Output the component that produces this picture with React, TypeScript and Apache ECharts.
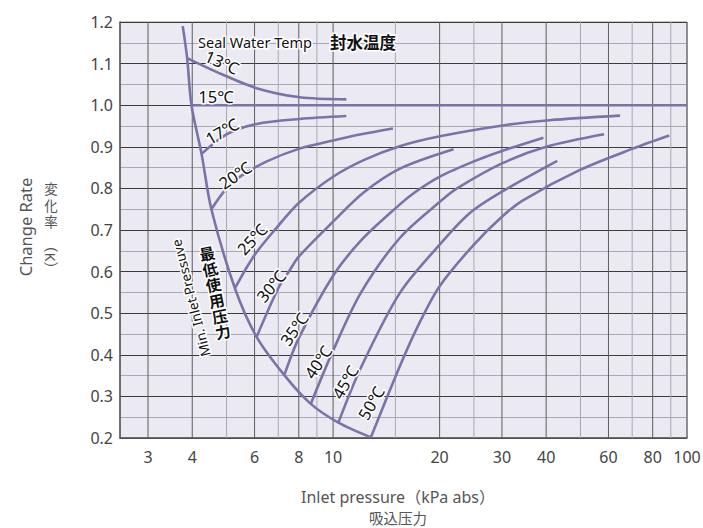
import React, { useEffect, useRef } from "react";
import * as echarts from "echarts";

// ---- data (inlet pressure kPa abs, change rate K) ----
const xMajorTicks = [3, 4, 6, 8, 10, 20, 30, 40, 60, 80, 100];
const xMinorTicks = [5, 7, 9, 15, 25, 50, 70, 90];

const minInletPressure = [
  [3.76, 1.19], [3.87, 1.113], [3.98, 1.0], [4.25, 0.883], [4.53, 0.75],
  [5.28, 0.56], [6.08, 0.443], [7.28, 0.351], [8.65, 0.282], [10.35, 0.237], [12.79, 0.2016],
];
const t13 = [[3.87, 1.113], [4.68, 1.08], [6.08, 1.041], [8.06, 1.019], [10.9, 1.014]];
const t15 = [[3.98, 1.0], [100, 1.0]];
const t17 = [[4.25, 0.883], [5.0, 0.93], [6.08, 0.955], [8.06, 0.967], [10.9, 0.974]];
const t20 = [[4.53, 0.75], [5.0, 0.8], [5.5, 0.83], [6.5, 0.865], [8, 0.895], [10, 0.915], [12, 0.93], [14.76, 0.944]];
const t25 = [[5.28, 0.56], [6, 0.64], [7, 0.71], [8, 0.765], [10, 0.828], [12.2, 0.868], [15.5, 0.902], [20.2, 0.926], [30.5, 0.952], [40.9, 0.964], [64.7, 0.975]];
const t30 = [[6.08, 0.443], [7, 0.56], [7.55, 0.604], [8, 0.636], [10, 0.72], [12.2, 0.79], [15.5, 0.848], [21.9, 0.894]];
const t35 = [[7.28, 0.351], [8, 0.44], [10, 0.59], [12, 0.675], [15, 0.752], [17, 0.79], [20.2, 0.83], [25, 0.865], [30, 0.89], [39.3, 0.922]];
const t40 = [[8.65, 0.282], [10, 0.41], [12, 0.55], [15.48, 0.682], [20.3, 0.772], [22.4, 0.8], [30, 0.86], [40, 0.9], [58.3, 0.93]];
const t45 = [[10.35, 0.237], [12, 0.37], [15.48, 0.55], [20.5, 0.675], [24.45, 0.742], [30, 0.792], [43, 0.866]];
const t50 = [[12.79, 0.2016], [15.48, 0.375], [17.5, 0.475], [20, 0.565], [25, 0.665], [30, 0.732], [34.5, 0.772], [50, 0.845], [70, 0.895], [89.1, 0.927]];

const curves = [minInletPressure, t13, t15, t17, t20, t25, t30, t35, t40, t45, t50];

const tempLabels = ["13℃", "15℃", "17℃", "20℃", "25℃", "30℃", "35℃", "40℃", "45℃", "50℃"];
const yTitleChars = ["変", "化", "率"];

const PURPLE = "#7B73A8";
const FONT = "'Noto Sans', 'Noto Sans CJK JP', sans-serif";

export default function App() {
  const ref = useRef<HTMLDivElement>(null);
  useEffect(() => {
    if (!ref.current) return;
    const chart = echarts.init(ref.current, null, { renderer: "svg" });

    const gridData = [
      ...xMinorTicks.map((v) => [v, 0.2, 0]),
      ...xMajorTicks.map((v) => [v, 0.2, 1]),
    ];

    const labelPos = [
      [222, 62, -0.42], [216, 96, 0], [222, 131, 0.52], [235, 175, 0.6],
      [252, 239, 0.82], [271, 286, 0.88], [294, 329, 0.96], [318, 362, 0.98],
      [345, 382, 1.05], [371, 403, 1.05],
    ];

    const halo = { stroke: "#ffffff", lineWidth: 3, strokeFirst: true } as any;

    const graphics: any[] = tempLabels.map((t, i) => ({
      type: "text",
      x: labelPos[i][0],
      y: labelPos[i][1],
      rotation: labelPos[i][2],
      z: 100,
      style: {
        text: t, fill: "#111", fontSize: 16.5, fontFamily: FONT,
        align: "center", verticalAlign: "middle", ...halo,
      },
    }));
    yTitleChars.forEach((c, i) => {
      graphics.push({
        type: "text", x: 51, y: 189 + i * 16.5,
        style: { text: c, fill: "#555", fontSize: 13.5, fontFamily: FONT, align: "center", verticalAlign: "middle" },
      });
    });
    graphics.push(
      {
        type: "text", x: 198, y: 42, z: 100,
        style: { text: "Seal Water Temp", fill: "#111", fontSize: 14.5, fontFamily: FONT, align: "left", verticalAlign: "middle", ...halo },
      },
      {
        type: "text", x: 330, y: 42, z: 100,
        style: { text: "封水温度", fill: "#111", fontSize: 16.5, fontWeight: "bold", fontFamily: FONT, align: "left", verticalAlign: "middle", ...halo },
      },
      {
        type: "text", x: 191, y: 298, rotation: 1.82, z: 100,
        style: { text: "Min. Inlet Pressuve", fill: "#111", fontSize: 13.5, fontFamily: FONT, align: "center", verticalAlign: "middle", ...halo },
      },
      {
        type: "text", x: 215, y: 293, rotation: 0.2, z: 100,
        style: { text: "最\n低\n使\n用\n压\n力", fill: "#111", fontSize: 15.5, lineHeight: 16, fontWeight: "bold", fontFamily: FONT, align: "center", verticalAlign: "middle", ...halo },
      },
      {
        type: "text", x: 25, y: 227, rotation: Math.PI / 2,
        style: { text: "Change Rate", fill: "#555", fontSize: 16.5, fontFamily: FONT, align: "center", verticalAlign: "middle" },
      },
      {
        type: "text", x: 51, y: 257, rotation: -Math.PI / 2,
        style: { text: "（K）", fill: "#555", fontSize: 14.5, fontFamily: FONT, align: "center", verticalAlign: "middle" },
      },
      {
        type: "text", x: 398, y: 497,
        style: { text: "Inlet pressure（kPa abs）", fill: "#555", fontSize: 16, fontFamily: FONT, align: "center", verticalAlign: "middle" },
      },
      {
        type: "text", x: 398, y: 518,
        style: { text: "吸込压力", fill: "#555", fontSize: 14.5, fontFamily: FONT, align: "center", verticalAlign: "middle" },
      }
    );

    chart.setOption({
      animation: false,
      grid: {
        left: 120, top: 22, right: 16, bottom: 90,
        show: true, backgroundColor: "#EBEAF2", borderColor: "#8a8a8a", borderWidth: 1,
      },
      xAxis: {
        type: "log", logBase: 10, min: 2.5, max: 100,
        axisLine: { show: true, lineStyle: { color: "#555", width: 1.5 } },
        axisTick: { show: false }, axisLabel: { show: false }, splitLine: { show: false },
      },
      yAxis: {
        type: "value", min: 0.2, max: 1.2, interval: 0.1,
        axisLine: { show: true, lineStyle: { color: "#555", width: 1.5 } },
        axisTick: { show: false },
        axisLabel: {
          formatter: (v: number) => v.toFixed(1), color: "#444", fontSize: 16, fontFamily: FONT, margin: 7,
        },
        splitLine: { show: true, lineStyle: { color: "#3c3c3c", width: 1 } },
        minorTick: { show: false, splitNumber: 2 },
        minorSplitLine: { show: true, lineStyle: { color: "#a9a9b2", width: 1 } },
      },
      series: [
        {
          type: "custom",
          silent: true,
          z: 1,
          data: gridData,
          encode: { x: 0, y: 1 },
          renderItem: (params: any, api: any) => {
            const v = api.value(0);
            const major = api.value(2) === 1;
            const top = api.coord([v, 1.2]);
            const bot = api.coord([v, 0.2]);
            const children: any[] = [
              {
                type: "line",
                shape: { x1: top[0], y1: top[1], x2: bot[0], y2: bot[1] },
                style: { stroke: major ? "#5c5c5c" : "#a9a9b2", lineWidth: 1 },
              },
            ];
            if (major) {
              children.push({
                type: "text",
                x: bot[0], y: bot[1] + 19,
                style: { text: String(v), fill: "#444", fontSize: 16, fontFamily: FONT, align: "center", verticalAlign: "middle" },
              });
            }
            return { type: "group", children };
          },
        },
        ...curves.map((d) => ({
          type: "line",
          data: d,
          showSymbol: false,
          smooth: 0.3,
          z: 5,
          silent: true,
          lineStyle: { color: PURPLE, width: 2.6 },
        })),
      ],
      graphic: graphics,
    });

    return () => chart.dispose();
  }, []);

  return (
    <div
      ref={ref}
      style={{ position: "fixed", left: 0, top: 0, width: 703, height: 528, background: "#fff" }}
    />
  );
}
